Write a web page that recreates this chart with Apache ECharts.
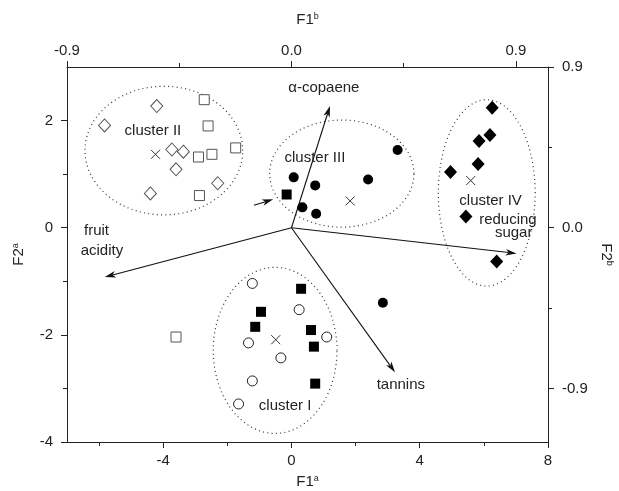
<!DOCTYPE html>
<html>
<head>
<meta charset="utf-8">
<script src="https://cdn.jsdelivr.net/npm/echarts@6/dist/echarts.min.js"></script>
<style>html,body{margin:0;padding:0;background:#fff}#c{width:619px;height:491px}</style>
</head>
<body>
<div id="c"></div>
<script>
// ---- data ----
var clusterII_diamonds = [[-4.20,2.27],[-5.83,1.91],[-3.73,1.46],[-3.37,1.42],[-3.60,1.09],[-2.30,0.83],[-4.40,0.64]];
var openSquares = [[-2.72,2.39],[-2.60,1.90],[-2.48,1.37],[-2.90,1.32],[-1.74,1.49],[-2.87,0.60],[-3.60,-2.04]];
var filledCircles = [[3.31,1.45],[0.07,0.94],[0.74,0.79],[2.39,0.90],[0.34,0.38],[0.77,0.26],[2.85,-1.40]];
var filledDiamonds = [[6.26,2.24],[6.19,1.73],[5.85,1.62],[5.82,1.19],[4.96,1.04],[5.44,0.21],[6.40,-0.63]];
var openCircles = [[-1.22,-1.04],[0.24,-1.53],[-1.34,-2.15],[-0.33,-2.43],[1.10,-2.04],[-1.22,-2.86],[-1.65,-3.29]];
var filledSquares = [[0.30,-1.14],[-0.95,-1.57],[-1.13,-1.85],[0.61,-1.91],[0.70,-2.22],[0.74,-2.91],[-0.15,0.62]];
var centroids = [[-4.24,1.37],[1.83,0.50],[5.59,0.88],[-0.49,-2.09]];
// ellipses: [cx, cy, rx, ry]
var ellipses = [[-3.98,1.44,2.46,1.20],[1.57,1.01,2.25,1.00],[6.09,0.65,1.51,1.74],[-0.51,-2.29,1.93,1.55]];
// arrows: [x0, y0, x1, y1]
var arrows = [[0,0,1.20,2.27],[0,0,7.02,-0.48],[0,0,3.23,-2.70],[0,0,-5.82,-0.92],[-1.17,0.42,-0.57,0.53]];
// text labels: [x, y, text]
var labels = [[-4.32,1.80,'cluster II'],[0.73,1.31,'cluster III'],[6.21,0.51,'cluster IV'],[-0.20,-3.33,'cluster I'],
  [6.75,0.15,'reducing'],[6.93,-0.10,'sugar'],[3.41,-2.94,'tannins'],[1.01,2.61,'\u03b1-copaene'],[-6.08,-0.06,'fruit'],[-5.91,-0.43,'acidity']];
var bottomMajor = [-4,0,4,8], bottomMinor = [-6,-2,2,6];
var topMajor = [-0.9,0,0.9], topMinor = [-0.45,0.45];
var leftMajor = [-4,-2,0,2], leftMinor = [-3,-1,1];
var rightMajor = [-0.9,0,0.9], rightMinor = [-0.45,0.45];

var FONT = 'Liberation Sans, Arial, sans-serif';
var INK = '#222';
var chart = echarts.init(document.getElementById('c'));

function mainAxis(pos, min, max, major, fmt, margin, name, gap, rot) {
  var o = {
    type: 'value', position: pos, min: min, max: max, gridIndex: 0,
    axisLine: { show: true, onZero: false, lineStyle: { color: INK, width: 1 } },
    axisTick: { show: true, inside: false, length: 6, customValues: major, lineStyle: { color: INK } },
    axisLabel: { show: true, customValues: major, margin: margin, fontSize: 15, fontFamily: FONT, color: INK,
      formatter: fmt },
    splitLine: { show: false },
    name: name, nameLocation: 'middle', nameGap: gap,
    nameTextStyle: { color: INK, fontFamily: FONT,
      rich: { m: { fontSize: 15, fontFamily: FONT, color: INK, lineHeight: 18, verticalAlign: 'top' },
              s: { fontSize: 9, fontFamily: FONT, color: INK, lineHeight: 18, verticalAlign: 'top' } } }
  };
  if (rot !== undefined) o.nameRotate = rot;
  return o;
}
function minorAxis(pos, min, max, minor) {
  return {
    type: 'value', position: pos, min: min, max: max, gridIndex: 0,
    axisLine: { show: false, onZero: false },
    axisTick: { show: true, inside: false, length: 4, customValues: minor, lineStyle: { color: INK } },
    axisLabel: { show: false }, splitLine: { show: false }
  };
}
var f0 = function (v) { return String(v); };
var f1 = function (v) { return (Math.abs(v) < 1e-9 ? 0 : v).toFixed(1); };

var option = {
  animation: false,
  backgroundColor: '#fff',
  grid: { left: 67, right: 71, top: 67, bottom: 49, containLabel: false, outerBoundsMode: 'none' },
  xAxis: [
    mainAxis('bottom', -7, 8, bottomMajor, f0, 11, '{m|F1}{s|a}', 32),
    minorAxis('bottom', -7, 8, bottomMinor),
    mainAxis('top', -0.9, 0.9 * 8 / 7, topMajor, f1, 9, '{m|F1}{s|b}', 37),
    minorAxis('top', -0.9, 0.9 * 8 / 7, topMinor)
  ],
  yAxis: [
    mainAxis('left', -4, 3, leftMajor, f0, 14, '{m|F2}{s|a}', 38, 90),
    minorAxis('left', -4, 3, leftMinor),
    mainAxis('right', -1.2, 0.9, rightMajor, f1, 14, '{m|F2}{s|b}', 44, -90),
    minorAxis('right', -1.2, 0.9, rightMinor)
  ],
  series: [
    { type: 'custom', xAxisIndex: 0, yAxisIndex: 0, silent: true, clip: false, z: 1,
      data: ellipses, encode: { x: 0, y: 1 },
      renderItem: function (params, api) {
        var cx = api.value(0), cy = api.value(1), rx = api.value(2), ry = api.value(3);
        var pts = [];
        for (var i = 0; i < 120; i++) {
          var a = i / 120 * Math.PI * 2;
          pts.push(api.coord([cx + rx * Math.cos(a), cy + ry * Math.sin(a)]));
        }
        return { type: 'polygon', shape: { points: pts },
          style: { fill: 'none', stroke: '#333', lineWidth: 1.2, lineDash: [1, 3.3] } };
      } },
    { type: 'custom', xAxisIndex: 0, yAxisIndex: 0, silent: true, clip: false, z: 2,
      data: arrows, encode: { x: [0, 2], y: [1, 3] },
      renderItem: function (params, api) {
        var p0 = api.coord([api.value(0), api.value(1)]);
        var p1 = api.coord([api.value(2), api.value(3)]);
        var dx = p1[0] - p0[0], dy = p1[1] - p0[1];
        var len = Math.sqrt(dx * dx + dy * dy); dx /= len; dy /= len;
        var nx = -dy, ny = dx, L = 11, W = 3.3, N = 3;
        var b = [p1[0] - dx * L, p1[1] - dy * L];
        var notch = [p1[0] - dx * (L - N), p1[1] - dy * (L - N)];
        return { type: 'group', children: [
          { type: 'line', shape: { x1: p0[0], y1: p0[1], x2: notch[0], y2: notch[1] },
            style: { stroke: '#111', lineWidth: 1.1 } },
          { type: 'polygon', shape: { points: [p1, [b[0] + nx * W, b[1] + ny * W], notch, [b[0] - nx * W, b[1] - ny * W]] },
            style: { fill: '#111', stroke: 'none' } }
        ] };
      } },
    { type: 'custom', xAxisIndex: 0, yAxisIndex: 0, silent: true, clip: false, z: 5,
      data: labels, encode: { x: 0, y: 1 },
      renderItem: function (params, api) {
        var p = api.coord([api.value(0), api.value(1)]);
        return { type: 'text', x: p[0], y: p[1],
          style: { text: labels[params.dataIndex][2], fill: INK, fontSize: 15, fontFamily: FONT,
            align: 'center', verticalAlign: 'middle' } };
      } },
    { type: 'scatter', data: clusterII_diamonds, symbol: 'diamond', symbolSize: [12, 13], z: 4,
      itemStyle: { color: '#fff', borderColor: '#555', borderWidth: 1, opacity: 1 } },
    { type: 'scatter', data: openSquares, symbol: 'rect', symbolSize: 10, z: 4,
      itemStyle: { color: '#fff', borderColor: '#555', borderWidth: 1, opacity: 1 } },
    { type: 'scatter', data: filledCircles, symbol: 'circle', symbolSize: 10, z: 4,
      itemStyle: { color: '#000', borderWidth: 0, opacity: 1 } },
    { type: 'scatter', data: filledDiamonds, symbol: 'diamond', symbolSize: [13, 14], z: 4,
      itemStyle: { color: '#000', borderWidth: 0, opacity: 1 } },
    { type: 'scatter', data: openCircles, symbol: 'circle', symbolSize: 10, z: 4,
      itemStyle: { color: '#fff', borderColor: '#222', borderWidth: 1, opacity: 1 } },
    { type: 'scatter', data: filledSquares, symbol: 'rect', symbolSize: 10, z: 4,
      itemStyle: { color: '#000', borderWidth: 0, opacity: 1 } },
    { type: 'scatter', data: centroids, symbol: 'path://M0,0L10,10M10,0L0,10', symbolSize: 9, z: 4,
      itemStyle: { color: 'none', borderColor: '#333', borderWidth: 1, opacity: 1 } }
  ]
};
chart.setOption(option);
</script>
</body>
</html>
